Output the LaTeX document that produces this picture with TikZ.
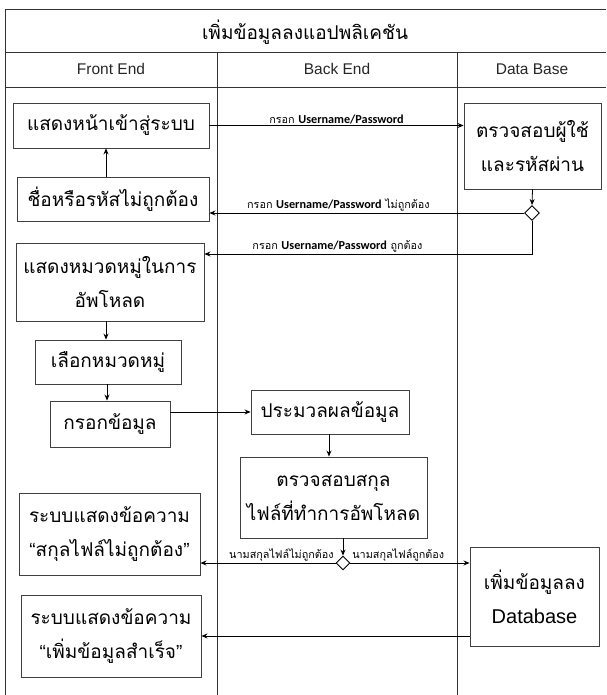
\documentclass[tikz,border=0pt]{standalone}
\usepackage{fontspec}
\setmainfont{Liberation Sans}
\newfontfamily\thaifont[Script=Thai]{Loma}
\newfontfamily\labelfont{Carlito}
\usepackage{tikz}
\usetikzlibrary{shapes.geometric,positioning,calc}
\usetikzlibrary{arrows.meta}

\tikzset{
    stepbox/.style={draw=black!75, line width=0.9pt, align=center, inner sep=2pt,
        font=\thaifont\fontsize{19}{34}\selectfont},
    choice/.style={diamond, draw, fill=white, line width=0.9pt, inner sep=0pt, minimum size=15pt},
    flow/.style={-{Stealth[length=6pt,width=5pt]}, line width=0.8pt},
    lane/.style={draw=black!80, line width=0.9pt},
    msg/.style={font=\thaifont\fontsize{10.8}{12}\selectfont, inner sep=1.5pt},
    header/.style={font=\fontsize{15.5}{16}\selectfont, text=black!85},
}
\newcommand{\uname}{{\labelfont\bfseries\fontsize{12.2}{12}\selectfont Username/Password}}
\newcommand{\quoted}[1]{{\rmfamily “}#1{\rmfamily ”}}

\begin{document}
\begin{tikzpicture}[x=1pt, y=-1pt]
    \useasboundingbox (0,0) rectangle (606,695);

    % swimlane frame
    \draw[lane] (606,9) -- (5,9) -- (5,695);
    \draw[lane] (5,52) -- (606,52);
    \draw[lane] (5,87) -- (606,87);
    \draw[lane] (217,52) -- (217,695);
    \draw[lane] (457,52) -- (457,695);

    \node (title) at (305,32) {\thaifont\fontsize{19}{20}\selectfont เพิ่มข้อมูลลงแอปพลิเคชัน};
    \node[header] (front) at (111,69) {Front End};
    \node[header] (back) at (337,69) {Back End};
    \node[header] (base) at (532,69) {Data Base};

    % Front End
    \node[stepbox, minimum width=196pt, minimum height=45pt] (login) at (111,125.5) {แสดงหน้าเข้าสู่ระบบ};
    \node[stepbox, minimum width=192pt, minimum height=44pt] (wrong) at (113,199) {ชื่อหรือรหัสไม่ถูกต้อง};
    \node[stepbox, minimum width=188pt, minimum height=78pt] (category) at (110,282) {แสดงหมวดหมู่ในการ\\อัพโหลด};
    \node[stepbox, minimum width=146pt, minimum height=44pt] (choose) at (108,362) {เลือกหมวดหมู่};
    \node[stepbox, minimum width=120pt, minimum height=46pt] (fill) at (110,424) {กรอกข้อมูล};
    \node[stepbox, minimum width=181pt, minimum height=82pt] (extmsg) at (109.5,534) {ระบบแสดงข้อความ\\\quoted{สกุลไฟล์ไม่ถูกต้อง}};
    \node[stepbox, minimum width=180pt, minimum height=82pt] (okmsg) at (111,636) {ระบบแสดงข้อความ\\\quoted{เพิ่มข้อมูลสำเร็จ}};

    % Back End
    \node[stepbox, minimum width=158pt, minimum height=44pt] (process) at (330,412) {ประมวลผลข้อมูล};
    \node[stepbox, minimum width=187pt, minimum height=81pt] (checkext) at (333.5,497.5) {ตรวจสอบสกุล\\ไฟล์ที่ทำการอัพโหลด};
    \node[choice, minimum size=14pt] (extok) at (343,563) {};

    % Data Base
    \node[stepbox, minimum width=137pt, minimum height=86pt] (checkuser) at (532.5,146) {ตรวจสอบผู้ใช้\\และรหัสผ่าน};
    \node[choice] (userok) at (532,213) {};
    \node[stepbox, minimum width=129pt, minimum height=99pt] (dbadd) at (534.5,596.5) {เพิ่มข้อมูลลง\\{\rmfamily\fontsize{20}{34}\selectfont Database}};
    \coordinate (turn) at (532,254);

    % login check
    \draw[flow] (login.east) -- (login.east -| checkuser.west)
        node[msg, midway, above] {กรอก \uname};
    \draw[flow] (checkuser.south) -- (userok.north);
    \draw[flow] (userok.west) -- (userok.west -| wrong.east)
        node[msg, pos=0.59, above] {กรอก \uname{} ไม่ถูกต้อง};
    \draw[flow] (userok.south) -- (turn) -- (turn -| category.east)
        node[msg, pos=0.594, above] {กรอก \uname{} ถูกต้อง};
    \draw[flow] (wrong.north -| 106,0) -- (login.south -| 106,0);

    % upload
    \draw[flow] (category.south -| 106,0) -- (choose.north -| 106,0);
    \draw[flow] (choose.south -| 107,0) -- (fill.north -| 107,0);
    \draw[flow] (process.west -| fill.east) -- (process.west);
    \draw[flow] (process.south -| 329,0) -- (checkext.north -| 329,0);
    \draw[flow] (checkext.south -| extok.north) -- (extok.north);
    \draw[flow] (extok.west) -- (extok.west -| extmsg.east)
        node[msg, pos=0, above left] {นามสกุลไฟล์ไม่ถูกต้อง};
    \draw[flow] (extok.east) -- (extok.east -| dbadd.west)
        node[msg, pos=0, above right] {นามสกุลไฟล์ถูกต้อง};
    \draw[flow] (okmsg.east -| dbadd.west) -- (okmsg.east);
\end{tikzpicture}
\end{document}
